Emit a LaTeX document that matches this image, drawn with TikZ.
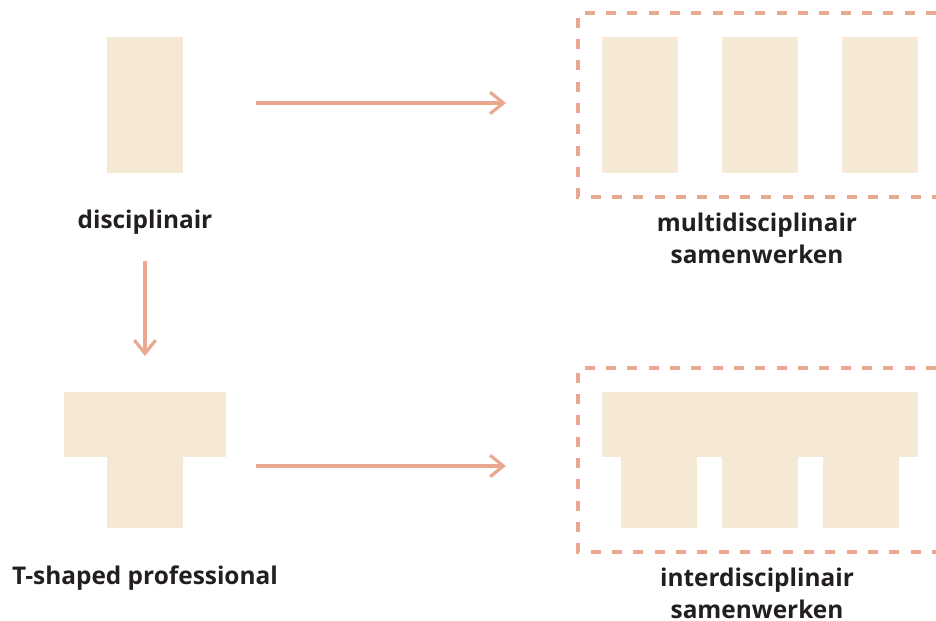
\documentclass[tikz,border=0pt]{standalone}
\usepackage{fontspec}
\setmainfont{Open Sans}
\usetikzlibrary{arrows.meta}
\definecolor{beige}{RGB}{245,233,214}
\definecolor{salmon}{RGB}{235,168,145}
\definecolor{ink}{RGB}{35,31,32}
\tikzset{
  block/.style={fill=beige},
  flow/.style={draw=salmon, line width=2.4pt, -{Straight Barb[length=10pt,width=16pt,line width=2.4pt]}},
  frame/.style={draw=salmon, line width=2.5pt, dash pattern=on 7.5pt off 8.5pt},
  caption/.style={font=\fontsize{18.3}{24}\selectfont\bfseries, text=ink, align=center, inner sep=0pt}
}
\begin{document}
\begin{tikzpicture}[x=0.75pt,y=-0.75pt]
\useasboundingbox (0,0) rectangle (936,621);
% single discipline
\fill[block] (107,37) rectangle (183,173);
\node[caption] (disc) at (145,222) {disciplinair};
% multidisciplinary teamwork
\draw[frame] (936,13) -- (578,13) -- (578,197) -- (936,197);
\fill[block] (602,37) rectangle (678,173);
\fill[block] (722,37) rectangle (798,173);
\fill[block] (842,37) rectangle (918,173);
\node[caption] (multi) at (757,238) {multidisciplinair\\samenwerken};
% T-shaped professional
\fill[block] (64,392) rectangle (226,457);
\fill[block] (107,456) rectangle (183,528);
\node[caption] (tshape) at (145,578) {T-shaped professional};
% interdisciplinary teamwork
\draw[frame] (936,368) -- (578,368) -- (578,552) -- (936,552);
\fill[block] (602,392) rectangle (918,457);
\fill[block] (621,456) rectangle (697,528);
\fill[block] (722,456) rectangle (798,528);
\fill[block] (823,456) rectangle (899,528);
\node[caption] (inter) at (757,593) {interdisciplinair\\samenwerken};
% transitions
\coordinate (a1s) at (256,103); \coordinate (a1e) at (506,103);
\coordinate (a2s) at (145,261); \coordinate (a2e) at (145,356);
\coordinate (a3s) at (256,466); \coordinate (a3e) at (506,466);
\draw[flow] (a1s) -- (a1e);
\draw[flow] (a2s) -- (a2e);
\draw[flow] (a3s) -- (a3e);
\end{tikzpicture}
\end{document}
